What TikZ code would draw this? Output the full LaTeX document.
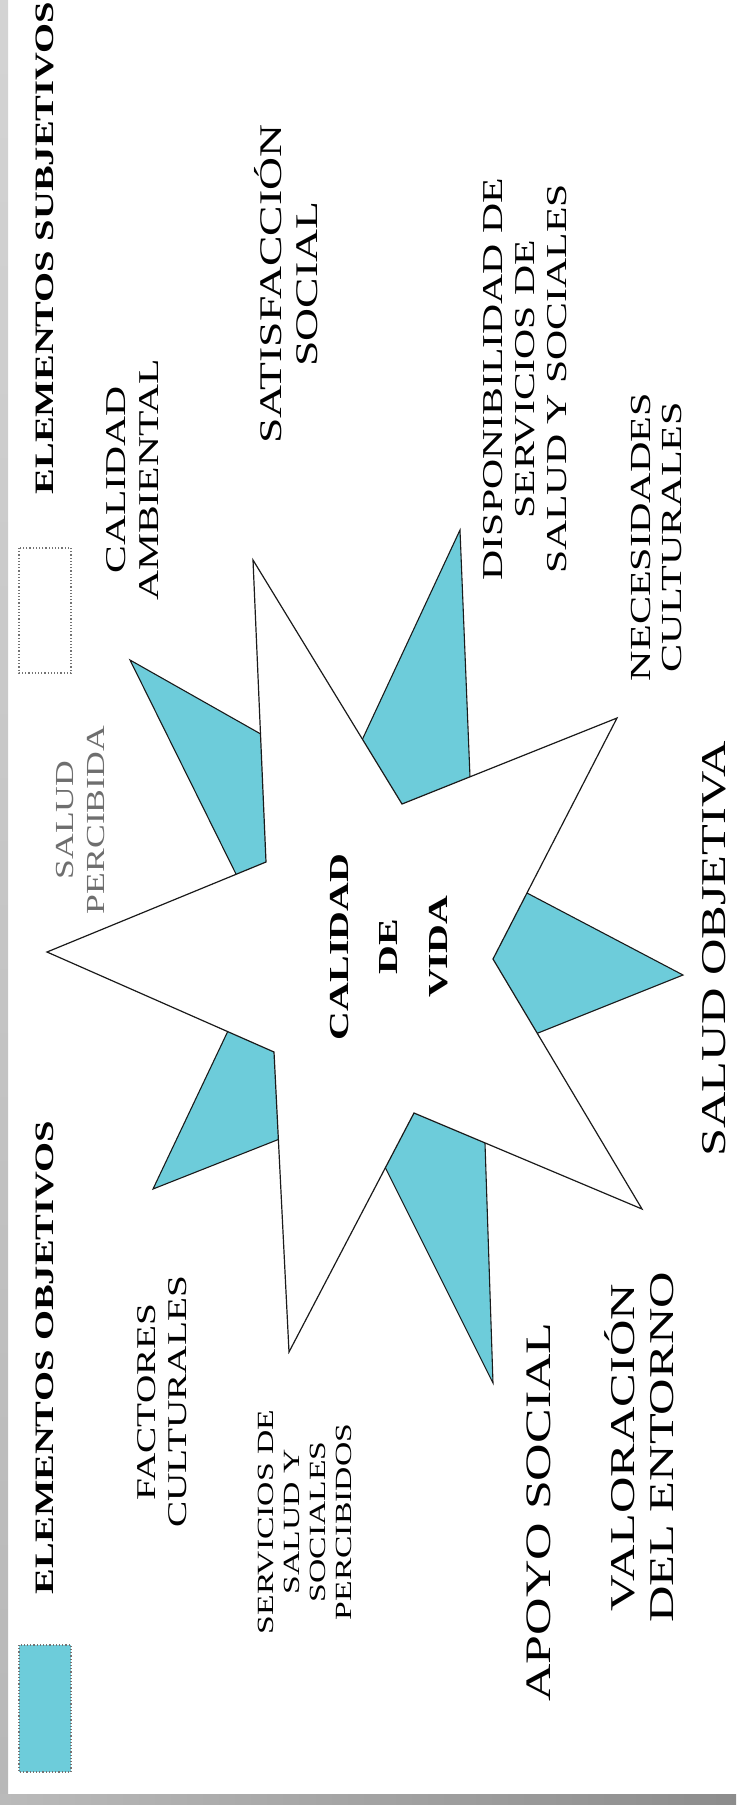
\documentclass[tikz,border=0pt]{standalone}
\usepackage{fontspec}
\setmainfont{Liberation Serif}
\usepackage{tikz}
\usetikzlibrary{calc}
\definecolor{objblue}{HTML}{6DCCDA}
\definecolor{starline}{HTML}{1A1A1A}
\definecolor{percgray}{HTML}{6E6E6E}
\newcommand{\fsz}[2]{\fontsize{#1}{#2}\selectfont}
\tikzset{
  lbl/.style    ={rotate=90,xscale=#1,align=center,inner sep=0pt},
  lbl/.default  =1.45,
  legend/.style ={lbl,font=\bfseries\fsz{13.3pt}{16pt}},
  keybox/.style ={draw=black!55,densely dotted,line width=0.6pt},
  startip/.style={fill=objblue,draw=starline,line width=0.55pt,line join=miter},
  starbody/.style={fill=white,draw=starline,line width=0.6pt,line join=miter}
}

\begin{document}
\begin{tikzpicture}[x=0.5pt,y=-0.5pt]
  \useasboundingbox (0,0) rectangle (736,1805);
  % frame
  \fill[top color=black!17,bottom color=black!28] (0,0) rectangle (8,1794);
  \fill[left color=black!27,right color=black!45] (0,1794) rectangle (736,1805);

  % legend
  \draw[keybox] (19,548) rectangle (71,673);
  \draw[keybox,fill=objblue] (19,1645) rectangle (71,1772);
  \node[legend] (subj) at (44.5,248) {ELEMENTOS SUBJETIVOS};
  \node[legend] (obj) at (44.5,1357.5) {ELEMENTOS OBJETIVOS};

  % star points
  \coordinate (ctr) at (370,958);
  \coordinate (t1) at (253,560);  \coordinate (i1) at (402,804);
  \coordinate (t2) at (617,718);  \coordinate (i2) at (493,959);
  \coordinate (t3) at (642,1209); \coordinate (i3) at (414,1113);
  \coordinate (t4) at (289,1352); \coordinate (i4) at (274,1052);
  \coordinate (t5) at (47,952);   \coordinate (i5) at (266,862);

  \coordinate (b1) at (130,660);  \coordinate (b1a) at (259,733);  \coordinate (b1b) at (235,872);
  \coordinate (b2) at (460,530);  \coordinate (b2a) at (363,738);  \coordinate (b2b) at (470,777);
  \coordinate (b3) at (683,975);  \coordinate (b3a) at (527,893);  \coordinate (b3b) at (538,1033);
  \coordinate (b4) at (493,1383); \coordinate (b4a) at (485,1143); \coordinate (b4b) at (386,1169);
  \coordinate (b5) at (153,1189); \coordinate (b5a) at (277,1140); \coordinate (b5b) at (227,1033);

  % blue star behind
  \draw[startip] (b1) -- ($(b1)!1.15!(b1a)$) -- (ctr) -- ($(b1)!1.15!(b1b)$) -- cycle;
  \draw[startip] (b2) -- ($(b2)!1.15!(b2a)$) -- (ctr) -- ($(b2)!1.15!(b2b)$) -- cycle;
  \draw[startip] (b3) -- ($(b3)!1.15!(b3a)$) -- (ctr) -- ($(b3)!1.15!(b3b)$) -- cycle;
  \draw[startip] (b4) -- ($(b4)!1.15!(b4a)$) -- (ctr) -- ($(b4)!1.15!(b4b)$) -- cycle;
  \draw[startip] (b5) -- ($(b5)!1.15!(b5a)$) -- (ctr) -- ($(b5)!1.15!(b5b)$) -- cycle;

  % white star in front
  \draw[starbody] (t1) -- (i1) -- (t2) -- (i2) -- (t3) -- (i3) -- (t4) -- (i4)
    -- (t5) -- (i5) -- cycle;

  % labels
  \node[lbl,font=\bfseries\fsz{13.75pt}{24.75pt}] (cdv) at (389,947) {CALIDAD\\DE\\VIDA};
  \node[lbl,font=\fsz{14.35pt}{16.5pt}] (ambiental) at (133,480) {CALIDAD\\AMBIENTAL};
  \node[lbl=1.37,text=percgray,font=\fsz{13pt}{15.5pt}] (percibida) at (81,820) {SALUD\\PERCIBIDA};
  \node[lbl,font=\fsz{15.75pt}{17.75pt}] (satisf) at (286,284) {SATISFACCIÓN\\SOCIAL};
  \node[lbl,font=\fsz{14.4pt}{16pt}] (dispon) at (525,379)
    {DISPONIBILIDAD DE\\SERVICIOS DE\\SALUD Y SOCIALES};
  \node[lbl,font=\fsz{14.55pt}{15.5pt}] (necesid) at (657,537) {NECESIDADES\\CULTURALES};
  \node[lbl,font=\fsz{17.4pt}{20pt}] (objetiva) at (714.5,949) {SALUD OBJETIVA};
  \node[lbl,font=\fsz{13.55pt}{15.5pt}] (factores) at (162,1402) {FACTORES\\CULTURALES};
  \node[lbl,font=\fsz{11.6pt}{13pt}] (servperc) at (304.5,1522)
    {SERVICIOS DE\\SALUD Y\\SOCIALES\\PERCIBIDOS};
  \node[lbl,font=\fsz{17.9pt}{20pt}] (apoyo) at (539,1512) {APOYO SOCIAL};
  \node[lbl,font=\fsz{17.4pt}{19.5pt}] (valoracion) at (639,1447.5) {VALORACIÓN\\DEL ENTORNO};
\end{tikzpicture}
\end{document}
